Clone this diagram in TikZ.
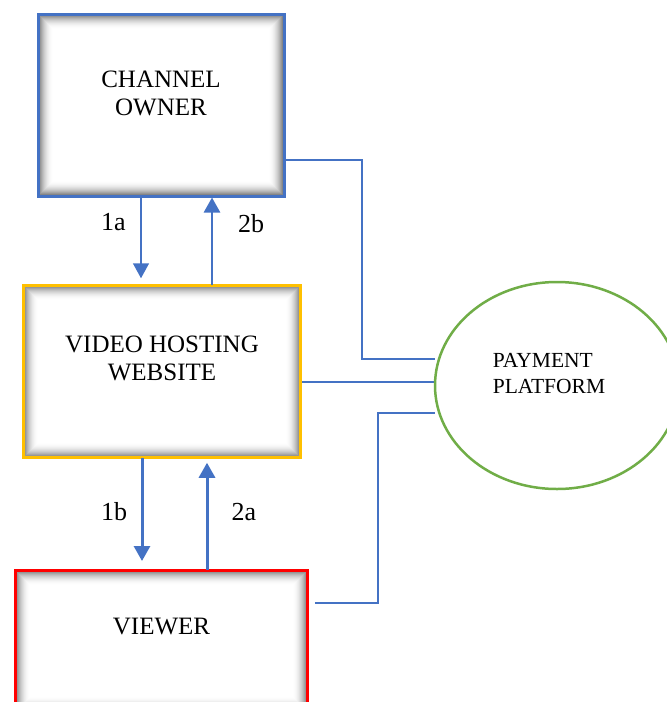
\documentclass[tikz,border=0pt]{standalone}
\usepackage{fontspec}
\setmainfont{Liberation Serif}
\usetikzlibrary{arrows.meta,shapes.geometric,backgrounds,calc}
\definecolor{ablue}{HTML}{4472C4}
\definecolor{agold}{HTML}{FFC000}
\definecolor{ared}{HTML}{FF0000}
\definecolor{agreen}{HTML}{70AD47}
\begin{document}
\begin{tikzpicture}[x=1pt,y=-1pt,
  glowbox/.style={draw=#1, line width=3pt, rectangle, inner sep=0pt, outer sep=0pt, fill=white,
    path picture={
      \foreach \k in {0,...,15}{
        \pgfmathsetmacro\gp{55*(1-\k/15)^2}
        \fill[black!\gp] ([shift={(\k pt,-\k pt)}]path picture bounding box.north west) rectangle ([shift={(-\k pt,\k pt)}]path picture bounding box.south east);
      }
    }},
  boxtext/.style={font=\fontsize{25}{28}\selectfont, align=center, inner sep=0pt},
  paytext/.style={font=\fontsize{21.5}{26}\selectfont, align=left, inner sep=0pt},
  lbl/.style={font=\fontsize{26}{28}\selectfont, inner sep=0pt},
  conn/.style={draw=ablue, line width=1.4pt},
  arr/.style={draw=ablue, -{Triangle[width=16pt,length=15pt]}, fill=ablue}
]
\useasboundingbox (0,0) rectangle (667,702);

% boxes
\node[glowbox=ablue, minimum width=246pt, minimum height=182pt] (co) at (161,105) {};
\node[glowbox=agold, minimum width=277.5pt, minimum height=172.5pt] (vh) at (162,371.5) {};
\node[glowbox=ared, minimum width=292.5pt, minimum height=142pt] (vw) at (161.5,641) {};
\node[draw=agreen, line width=2.5pt, ellipse, minimum width=244pt, minimum height=207pt, inner sep=0pt, outer sep=0pt, fill=white] (pay) at (557,385.5) {};

% box texts
\node[boxtext] (cotext) at ($(co.center)+(0,-12)$) {CHANNEL\\OWNER};
\node[boxtext] (vhtext) at ($(vh.center)+(0,-13)$) {VIDEO HOSTING\\WEBSITE};
\node[boxtext] (vwtext) at ($(vw.center)+(0,-15)$) {VIEWER};
\node[paytext] (paytxt) at ($(pay.center)+(-8,-12)$) {PAYMENT\\PLATFORM};

% connectors to payment platform
\coordinate (a1) at (362,160);
\coordinate (a2) at (362,359);
\coordinate (b1) at (0,382);
\coordinate (c1) at (378,603);
\coordinate (c2) at (378,413);
\begin{scope}[on background layer]
  \draw[conn] (co.east |- a1) -- (a1) -- (a2) -- (a2 -| pay.west);
  \draw[conn] (vh.east |- b1) -- (b1 -| pay.west);
  \draw[conn] ($(vw.east |- c1)+(7,0)$) -- (c1) -- (c2) -- (c2 -| pay.west);
\end{scope}

% flow arrows
\coordinate (x1) at (141,0);
\coordinate (x2) at (212,0);
\coordinate (x3) at (142,0);
\coordinate (x4) at (207,0);
\draw[arr, line width=1.5pt] (co.south -| x1) -- ($(vh.north -| x1)+(0,-7)$);
\draw[arr, line width=2.6pt] (vh.north -| x2) -- ($(co.south -| x2)+(0,1.5)$);
\draw[arr, line width=3pt] (vh.south -| x3) -- ($(vw.north -| x3)+(0,-9)$);
\draw[arr, line width=3pt] (vw.north -| x4) -- ($(vh.south -| x4)+(0,5)$);

% arrow labels
\node[lbl] (l1a) at (113.5,222) {1a};
\node[lbl] (l2b) at (251,224) {2b};
\node[lbl] (l1b) at (114,512) {1b};
\node[lbl] (l2a) at (244,512) {2a};
\end{tikzpicture}
\end{document}
